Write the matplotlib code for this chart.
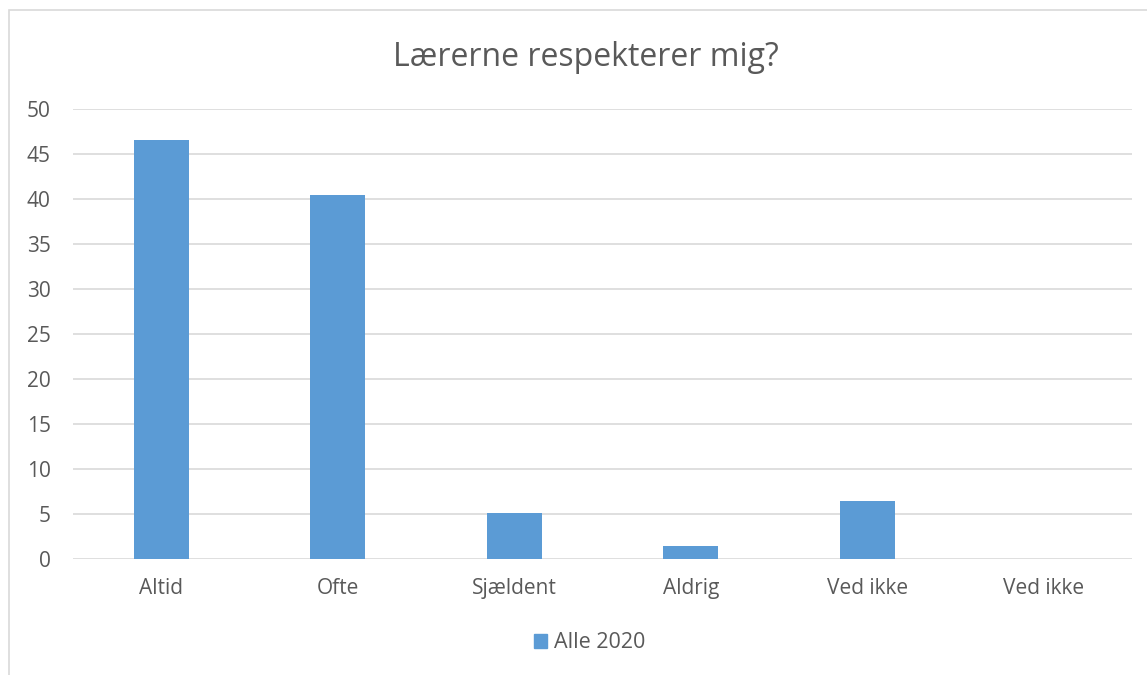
import matplotlib.pyplot as plt
from matplotlib.patches import Rectangle, Patch

categories = ['Altid', 'Ofte', 'Sjældent', 'Aldrig', 'Ved ikke', 'Ved ikke']
values = [46.6, 40.4, 5.1, 1.5, 6.5, 0]
series_name = 'Alle 2020'

plt.rcParams['font.family'] = ['Open Sans', 'DejaVu Sans']
text_color = '#595959'
bar_color = '#5B9BD5'

fig = plt.figure(figsize=(11.47, 6.75), dpi=100)
fig.patches.append(Rectangle((9 / 1147, -0.1), 1.2, 1 - 10 / 675 + 0.1,
                             transform=fig.transFigure, fill=False,
                             edgecolor='#D9D9D9', linewidth=1.2))

ax = fig.add_axes([73 / 1147, 1 - 559 / 675, (1132 - 73) / 1147, (559 - 109) / 675])
x = range(len(categories))
ax.bar(x, values, width=0.31, color=bar_color, zorder=3)

ax.set_xlim(-0.5, len(categories) - 0.5)
ax.set_ylim(0, 50)
ax.set_yticks(range(0, 51, 5))
ax.set_xticks(list(x))
ax.set_xticklabels(categories)
ax.grid(axis='y', color='#D9D9D9', linewidth=1.2, zorder=0)
for s in ax.spines.values():
    s.set_visible(False)
ax.tick_params(axis='both', length=0, labelsize=15, colors=text_color)
ax.tick_params(axis='x', pad=14)
ax.tick_params(axis='y', pad=16)

fig.text(0.511, 1 - 58 / 675, 'Lærerne respekterer mig?', ha='center', va='center',
         fontsize=23, color=text_color)

fig.legend(handles=[Patch(color=bar_color, label=series_name)], loc='center',
           bbox_to_anchor=(0.514, 1 - 643 / 675), frameon=False, fontsize=15.5,
           handlelength=0.6, handleheight=0.6, handletextpad=0.3, labelcolor=text_color)

fig.savefig('out.png', dpi=100)
